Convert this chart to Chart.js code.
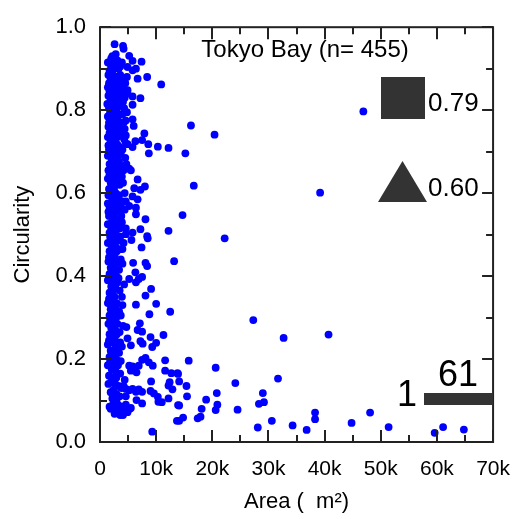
<!DOCTYPE html>
<html>
<head>
<meta charset="utf-8">
<script src="https://cdn.jsdelivr.net/npm/chart.js@4.4.0/dist/chart.umd.min.js"></script>
<style>
  html, body { margin: 0; padding: 0; background: #fff; }
  #wrap { width: 525px; height: 519px; }
</style>
</head>
<body>
<div id="wrap"><canvas id="chart" width="525" height="519"></canvas></div>
<script>
// [area in thousand m2, circularity]
const denseCore = [
  [2.2,.93],[2.6,.92],[1.9,.91],[3.1,.92],[3.6,.905],[2.4,.90],[1.7,.895],[3.3,.90],[2.0,.925],[2.8,.935],
  [1.8,.89],[2.3,.885],[2.9,.88],[3.4,.875],[4.2,.87],[1.6,.865],[2.1,.86],[2.7,.855],[3.8,.86],[4.5,.865],[2.5,.85],[1.9,.875],[3.0,.865],
  [1.7,.845],[2.2,.84],[3.1,.835],[3.9,.84],[2.6,.83],[1.9,.825],[4.4,.83],[2.9,.82],[2.3,.815],[3.5,.81],[1.6,.805],[2.7,.80],[4.1,.82],[2.0,.80],[3.3,.845],
  [1.8,.795],[2.5,.79],[3.2,.785],[4.0,.79],[2.1,.78],[2.9,.775],[3.7,.77],[1.6,.77],[2.4,.765],[3.4,.76],[4.6,.775],[2.0,.755],[2.8,.75],[1.9,.785],[3.0,.795],
  [1.7,.745],[2.3,.74],[3.1,.735],[3.9,.74],[2.6,.73],[1.9,.725],[4.3,.73],[2.9,.72],[2.2,.715],[3.5,.71],[1.6,.705],[2.7,.70],[4.0,.705],[2.0,.70],[3.3,.745],
  [1.8,.695],[2.4,.69],[3.2,.685],[2.1,.68],[2.9,.675],[1.7,.67],[2.5,.665],[3.6,.665],[2.0,.655],[2.8,.65],[1.9,.66],[3.0,.69],[4.2,.655],[3.8,.655],
  [1.7,.645],[2.2,.64],[3.0,.635],[2.6,.63],[1.9,.625],[3.5,.62],[2.3,.615],[4.1,.625],[2.0,.605],[2.8,.60],[1.6,.61],[3.3,.645],[2.5,.61],[4.4,.60],
  [1.8,.595],[2.4,.59],[3.1,.585],[2.1,.58],[2.9,.575],[3.7,.57],[1.7,.565],[2.6,.56],[3.4,.555],[2.0,.55],[4.0,.58],[2.3,.57],
  [1.6,.545],[2.2,.54],[3.0,.535],[2.7,.525],[1.9,.52],[3.5,.515],[2.4,.51],[1.7,.505],[2.9,.50],[3.9,.53],[2.1,.53],
  [1.8,.495],[2.5,.49],[3.2,.485],[2.0,.475],[2.8,.47],[1.7,.46],[2.3,.455],[3.6,.465],[2.6,.45],[4.2,.48],
  [1.6,.445],[2.2,.44],[3.0,.435],[2.7,.425],[1.9,.42],[3.4,.415],[2.4,.41],[1.7,.405],[2.9,.40],[4.0,.43],
  [1.8,.395],[2.4,.39],[3.1,.385],[2.0,.375],[2.7,.37],[1.7,.36],[2.3,.355],[3.5,.365],[2.6,.35],[4.3,.38],
  [1.6,.345],[2.2,.34],[3.0,.335],[2.7,.325],[1.9,.32],[3.4,.315],[2.4,.31],[1.7,.305],[2.9,.30],[4.0,.33],
  [1.8,.295],[2.4,.29],[3.1,.285],[2.0,.275],[2.7,.27],[1.7,.26],[2.3,.255],[3.5,.265],[2.6,.25],[4.1,.28],
  [1.6,.245],[2.2,.24],[3.0,.235],[2.7,.225],[1.9,.22],[3.4,.215],[2.4,.21],[1.7,.205],[2.9,.20],[3.9,.23],
  [1.8,.195],[2.5,.19],[3.2,.185],[2.1,.175],[2.8,.17],[1.6,.16],[2.3,.155],[3.6,.165],[4.4,.15],
  [2.0,.145],[2.7,.14],[3.3,.135],[2.4,.125],[1.9,.12],[3.8,.13],[4.6,.11],[3.0,.105],
  [1.7,.085],[2.3,.09],[2.9,.08],[3.4,.075],[3.9,.07],[4.4,.085],[2.6,.068],[3.2,.09],[4.8,.075],[5.3,.08],[4.1,.065],[3.6,.065],
  [2.6,.082],[3.3,.078],[3.8,.085],[4.3,.078],[4.9,.072],[5.5,.082],[4.2,.07]
];

const denseFill = [
  [1.4,.915],[2.9,.905],[3.9,.915],[1.5,.885],[2.6,.875],[3.6,.885],[4.8,.88],[1.4,.855],[3.2,.855],[4.0,.85],
  [1.5,.835],[2.4,.825],[3.7,.825],[4.9,.84],[1.3,.815],[3.0,.81],[4.3,.805],[2.2,.795],[3.5,.79],[4.8,.795],
  [1.4,.785],[2.7,.78],[4.2,.77],[1.5,.76],[3.1,.765],[4.4,.755],[2.2,.75],[3.8,.75],[1.4,.735],[2.8,.735],
  [4.6,.72],[1.5,.715],[3.2,.715],[2.4,.705],[3.7,.695],[1.4,.69],[2.6,.68],[4.5,.685],[3.4,.675],[1.5,.655],
  [2.3,.665],[3.3,.66],[4.7,.67],[1.4,.635],[2.8,.625],[3.9,.64],[1.5,.595],[3.4,.595],[4.6,.58],[2.7,.585],
  [1.4,.575],[3.2,.565],[4.4,.56],[1.5,.555],[2.5,.545],[3.8,.545],[1.4,.525],[3.3,.53],[4.6,.515],[2.2,.505],
  [3.6,.495],[1.4,.48],[2.7,.485],[4.0,.465],[3.0,.46],[1.5,.435],[3.7,.44],[2.5,.425],[1.4,.39],[3.3,.395],
  [2.8,.38],[3.9,.35],[1.4,.335],[2.5,.325],[3.7,.305],[1.5,.285],[3.0,.26],[2.1,.255],[1.4,.235],[3.6,.24],
  [2.5,.20],[1.4,.185],[3.7,.195],[2.9,.155],[1.5,.14],[4.2,.135],[3.5,.11],[2.2,.105],[2.7,.095],[1.9,.08],
  [4.6,.09],[3.0,.07]
];

const nearSpread = [
  [2.6,.959],[4.1,.955],[4.2,.948],[5.2,.931],[5.8,.919],[7.4,.917],[6.4,.900],[5.8,.896],[4.9,.904],[8.4,.880],
  [10.9,.862],[6.7,.876],[5.8,.833],[7.2,.829],[5.8,.813],[4.9,.848],[5.8,.778],[6.0,.762],[7.9,.744],[7.5,.728],
  [6.3,.725],[5.8,.711],[8.6,.718],[8.7,.696],[10.3,.712],[12.2,.709],[4.6,.739],[4.9,.718],[5.2,.659],[5.5,.655],
  [6.7,.633],[8.0,.616],[7.2,.608],[6.1,.612],[5.8,.592],[6.7,.585],[6.4,.565],[6.4,.549],[5.2,.569],[8.1,.537],
  [12.2,.509],[7.2,.513],[8.4,.496],[5.8,.505],[4.6,.501],
  [5.6,.487],[7.4,.469],[8.5,.491],[13.2,.436],[5.9,.432],[8.1,.432],[8.4,.424],[6.3,.409],[7.5,.398],[6.9,.393],
  [6.4,.385],[5.2,.393],[9.1,.369],[8.1,.353],[10.0,.333],[6.4,.331],[12.5,.314],[8.8,.308],[7.1,.286],[6.7,.270],
  [7.5,.266],[4.7,.277],[11.3,.258],[9.0,.253],[4.9,.250],[7.2,.243],[7.6,.237],[10.0,.239],[9.3,.229],[5.5,.233],
  [8.1,.203],[8.7,.192],[9.4,.184],[7.5,.198],[11.6,.197],[5.2,.184],[5.8,.182],[6.9,.184],[6.5,.168],[5.5,.172],
  [11.6,.172],[12.7,.166],[13.8,.166],[12.4,.144],[12.2,.136],[12.9,.127],[9.1,.146],[12.2,.105],[13.9,.089],[13.7,.051],
  [10.4,.097],[11.0,.096],[5.8,.128],[5.2,.125],[4.6,.128],[6.4,.121],[6.9,.127],[7.5,.121],[9.0,.123],[9.6,.117],
  [10.3,.109],[2.9,.116],[2.3,.144],[6.5,.101],[7.5,.093],[9.3,.025]
];

const longTail = [
  [15.8,.196],[20.6,.179],[13.9,.164],[14.1,.146],[15.4,.135],[24.1,.142],[15.5,.110],[20.8,.118],[18.9,.102],[14.1,.088],
  [18.1,.080],[20.9,.090],[20.6,.077],[24.5,.078],[14.8,.059],[14.1,.051],[17.4,.057],[17.9,.061],
  [46.9,.797],[39.2,.601],[16.2,.763],[20.4,.741],[15.2,.696],[16.7,.618],[14.7,.547],[22.2,.491],[27.3,.294],[32.7,.251],
  [40.7,.259],[31.7,.153],[29.0,.118],[29.2,.096],[28.3,.092],[38.3,.071],[38.3,.055],[30.6,.051],[34.3,.040],[36.8,.029],
  [28.1,.035],[44.8,.046],[48.1,.071],[51.4,.036],[59.6,.022],[61.1,.036],[64.8,.030]
];

const xTickValues = [0, 5000, 10000, 15000, 20000, 25000, 30000, 35000, 40000, 45000, 50000, 55000, 60000, 65000, 70000];
const yTickValues = [0, 0.1, 0.2, 0.3, 0.4, 0.5, 0.6, 0.7, 0.8, 0.9, 1.0];

const FONT = '"Liberation Sans", Arial, sans-serif';

const points = denseCore.concat(denseFill, nearSpread, longTail).map(p => ({ x: p[0] * 1000, y: p[1] }));

// frame, inward ticks and the text/shape notes inside the plot
const frameAndNotes = {
  id: 'frameAndNotes',
  afterDraw(chart) {
    const { ctx, chartArea: a, scales: { x, y } } = chart;
    ctx.save();
    ctx.strokeStyle = '#222';
    ctx.lineWidth = 2;
    ctx.strokeRect(a.left, a.top, a.right - a.left, a.bottom - a.top);

    ctx.beginPath();
    xTickValues.forEach(v => {
      const px = Math.round(x.getPixelForValue(v));
      const len = v % 10000 === 0 ? 12 : 7;
      ctx.moveTo(px, a.bottom); ctx.lineTo(px, a.bottom - len);
      ctx.moveTo(px, a.top); ctx.lineTo(px, a.top + len);
    });
    yTickValues.forEach((v, i) => {
      const py = Math.round(y.getPixelForValue(v));
      const len = i % 2 === 0 ? 11 : 7;
      ctx.moveTo(a.left, py); ctx.lineTo(a.left + len, py);
      ctx.moveTo(a.right, py); ctx.lineTo(a.right - len, py);
    });
    ctx.stroke();

    ctx.fillStyle = '#000';
    ctx.textBaseline = 'middle';
    ctx.textAlign = 'center';
    ctx.font = '24px ' + FONT;
    ctx.fillText('Tokyo Bay (n= 455)', 305, 50);

    ctx.fillStyle = '#333';
    ctx.fillRect(381, 77, 44, 42);
    ctx.beginPath();
    ctx.moveTo(402.5, 161);
    ctx.lineTo(427, 202);
    ctx.lineTo(378, 202);
    ctx.closePath();
    ctx.fill();
    ctx.fillRect(424, 393, 69, 12);

    ctx.fillStyle = '#000';
    ctx.textAlign = 'left';
    ctx.font = '26px ' + FONT;
    ctx.fillText('0.79', 428, 104);
    ctx.fillText('0.60', 428, 189);

    ctx.textAlign = 'center';
    ctx.font = '36px ' + FONT;
    ctx.fillText('1', 407, 396);
    ctx.fillText('61', 458, 376);
    ctx.restore();
  }
};

const ctx = document.getElementById('chart').getContext('2d');
new Chart(ctx, {
  type: 'scatter',
  data: {
    datasets: [{
      data: points,
      backgroundColor: '#0000ff',
      borderWidth: 0,
      pointRadius: 3.9,
      pointHoverRadius: 3.9
    }]
  },
  options: {
    responsive: false,
    animation: false,
    devicePixelRatio: 1,
    layout: { padding: { top: 19, right: 22, left: 0, bottom: 0 } },
    plugins: { legend: { display: false }, tooltip: { enabled: false } },
    scales: {
      x: {
        type: 'linear',
        min: 0,
        max: 70000,
        afterFit: s => { s.height = 77; },
        grid: { display: false, drawTicks: false },
        border: { display: false },
        ticks: {
          stepSize: 10000,
          padding: 15,
          color: '#000',
          font: { family: FONT, size: 21 },
          maxRotation: 0,
          callback: v => v === 0 ? '0' : (v / 1000) + 'k'
        },
        title: {
          display: true,
          text: 'Area (  m²)',
          color: '#000',
          font: { family: FONT, size: 22 },
          padding: { top: 0, bottom: 4 }
        }
      },
      y: {
        min: 0,
        max: 1,
        afterFit: s => { s.width = 100; },
        grid: { display: false, drawTicks: false },
        border: { display: false },
        ticks: {
          stepSize: 0.2,
          padding: 14,
          color: '#000',
          font: { family: FONT, size: 22 },
          callback: v => v.toFixed(1)
        },
        title: {
          display: true,
          text: 'Circularity',
          color: '#000',
          font: { family: FONT, size: 22 },
          padding: { top: 10, bottom: 0 }
        }
      }
    }
  },
  plugins: [frameAndNotes]
});
</script>
</body>
</html>
